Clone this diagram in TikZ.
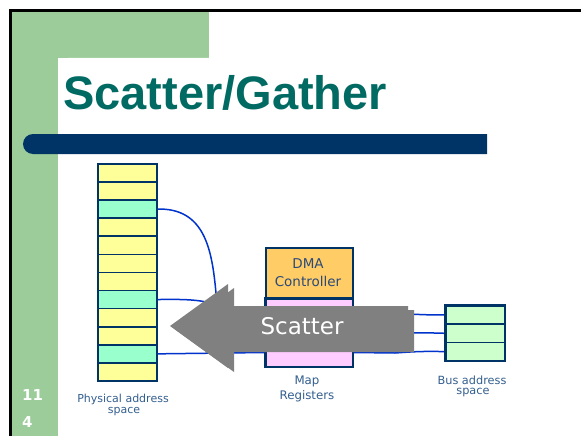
\documentclass[tikz,border=0pt]{standalone}
\usepackage{fontspec}
\setmainfont{DejaVu Sans}
\newfontfamily\titlefont{Liberation Sans}
\newfontfamily\vfont{DejaVu Sans}
\definecolor{slidegreen}{HTML}{9CCC99}
\definecolor{titleteal}{HTML}{006A63}
\definecolor{navy}{HTML}{003366}
\definecolor{cellyellow}{HTML}{FFFF99}
\definecolor{cellaqua}{HTML}{99FFCC}
\definecolor{buscell}{HTML}{CCFFCC}
\definecolor{dmaorange}{HTML}{FFCC66}
\definecolor{mappink}{HTML}{FFCCFF}
\definecolor{labelblue}{HTML}{335F8F}
\definecolor{dmatext}{HTML}{2A4A7A}
\definecolor{wire}{HTML}{0033CC}
\definecolor{arrowgray}{HTML}{808080}
\tikzset{
  cellbox/.style={draw=navy, line width=1.6pt},
  wireline/.style={draw=wire, line width=1.5pt},
  lbl/.style={text=labelblue, inner sep=0pt, anchor=base, font=\vfont\fontsize{11}{12}\selectfont},
}
\begin{document}
\begin{tikzpicture}[x=1pt,y=-1pt]
\useasboundingbox (0,0) rectangle (581,436);
% slide background
\fill[white] (0,0) rectangle (581,436);
\fill[slidegreen] (12,12) rectangle (209,58);
\fill[slidegreen] (12,12) rectangle (58,436);
\fill[white] (58,436) -- (58,68) arc[start angle=180,end angle=270,radius=10] -- (209,58) -- (209,64) -- (581,64) -- (581,436) -- cycle;
\fill[black] (9,9) rectangle (581,12);
\fill[black] (9,9) rectangle (12,436);
% title
\node[anchor=base west, inner sep=0pt, text=titleteal, font=\titlefont\bfseries\fontsize{47}{50}\selectfont] (title) at (63,110) {Scatter/Gather};
% bar
\fill[navy] (487,134) -- (33,134) arc[start angle=270,end angle=90,radius=10] -- (487,154) -- cycle;
% page number
\node[anchor=base west, inner sep=0pt, text=white, font=\vfont\bfseries\fontsize{15}{16}\selectfont] (pgA) at (22,400) {11};
\node[anchor=base west, inner sep=0pt, text=white, font=\vfont\bfseries\fontsize{15}{16}\selectfont] (pgB) at (22,427) {4};

% physical address column
\foreach \i/\c in {1/cellyellow,2/cellyellow,3/cellaqua,4/cellyellow,5/cellyellow,6/cellyellow,7/cellyellow,8/cellaqua,9/cellyellow,10/cellyellow,11/cellaqua,12/cellyellow}{
  \node[cellbox, fill=\c, minimum width=59pt, minimum height=18.1pt, inner sep=0pt, anchor=north west] (p\i) at (97,{163+18.1*(\i-1)}) {};
}
% bus address column
\foreach \i in {1,2,3}{
  \node[cellbox, fill=buscell, minimum width=59pt, minimum height=18.33pt, inner sep=0pt, anchor=north west] (b\i) at (445,{305+18.33*(\i-1)}) {};
}
% DMA controller and map registers
\node[cellbox, fill=dmaorange, minimum width=87pt, minimum height=51pt, inner sep=0pt, anchor=north west] (dma) at (265,247) {};
\node[cellbox, fill=mappink, minimum width=87pt, minimum height=68pt, inner sep=0pt, anchor=north west] (map) at (265,298) {};
\coordinate (m1) at (map.west |- 0,314);
\coordinate (m2) at (map.west |- 0,333);
\coordinate (m3) at (map.west |- 0,352.5);
\coordinate (r1) at (map.east |- 0,314);
\coordinate (r2) at (map.east |- 0,333);
\coordinate (r3) at (map.east |- 0,352.5);

% wires
\draw[wireline] (p3.east) .. controls (205,208) and (212,250) .. (216,293) .. controls (219,310) and (232,314) .. (m1);
\draw[wireline] (p8.east) .. controls (185,299) and (200,300) .. (210,303) -- (m2);
\draw[wireline] (p11.east) -- (m3);
\draw[wireline] (r1) -- (405,314) .. controls (415,314) and (420,315) .. (b1.west);
\draw[wireline] (r2) -- (405,333) .. controls (415,333) and (420,332.5) .. (b2.west);
\draw[wireline] (r3) -- (395,353) .. controls (410,352) and (420,351) .. (b3.west);
\draw[navy, line width=1.6pt] (map.north west) rectangle (map.south east);
\draw[navy, line width=1.6pt] (b1.north west) rectangle (b3.south east);

% DMA text
\node[anchor=base, inner sep=0pt, text=dmatext, font=\vfont\fontsize{13.5}{15}\selectfont] (dmaA) at (308,268) {DMA};
\node[anchor=base, inner sep=0pt, text=dmatext, font=\vfont\fontsize{13.5}{15}\selectfont] (dmaB) at (308,286) {Controller};

% scatter arrow (two offset copies)
\fill[arrowgray] (176,330) -- (234,288) -- (234,310) -- (414,310) -- (414,352) -- (234,352) -- (234,372) -- cycle;
\fill[arrowgray] (170,326) -- (228,284) -- (228,306) -- (408,306) -- (408,348) -- (228,348) -- (228,368) -- cycle;
\node[anchor=base, inner sep=0pt, text=white, font=\vfont\fontsize{23}{25}\selectfont] (scat) at (302,334) {Scatter};

% labels
\node[lbl] (physA) at (123,402) {Physical address};
\node[lbl] (physB) at (124,413) {space};
\node[lbl, font=\vfont\fontsize{11.8}{13}\selectfont] (mapA) at (307,384) {Map};
\node[lbl, font=\vfont\fontsize{11.8}{13}\selectfont] (mapB) at (307,399) {Registers};
\node[lbl, font=\vfont\fontsize{11.3}{12}\selectfont] (busA) at (472,384) {Bus address};
\node[lbl, font=\vfont\fontsize{11.3}{12}\selectfont] (busB) at (473,394) {space};
\end{tikzpicture}
\end{document}
